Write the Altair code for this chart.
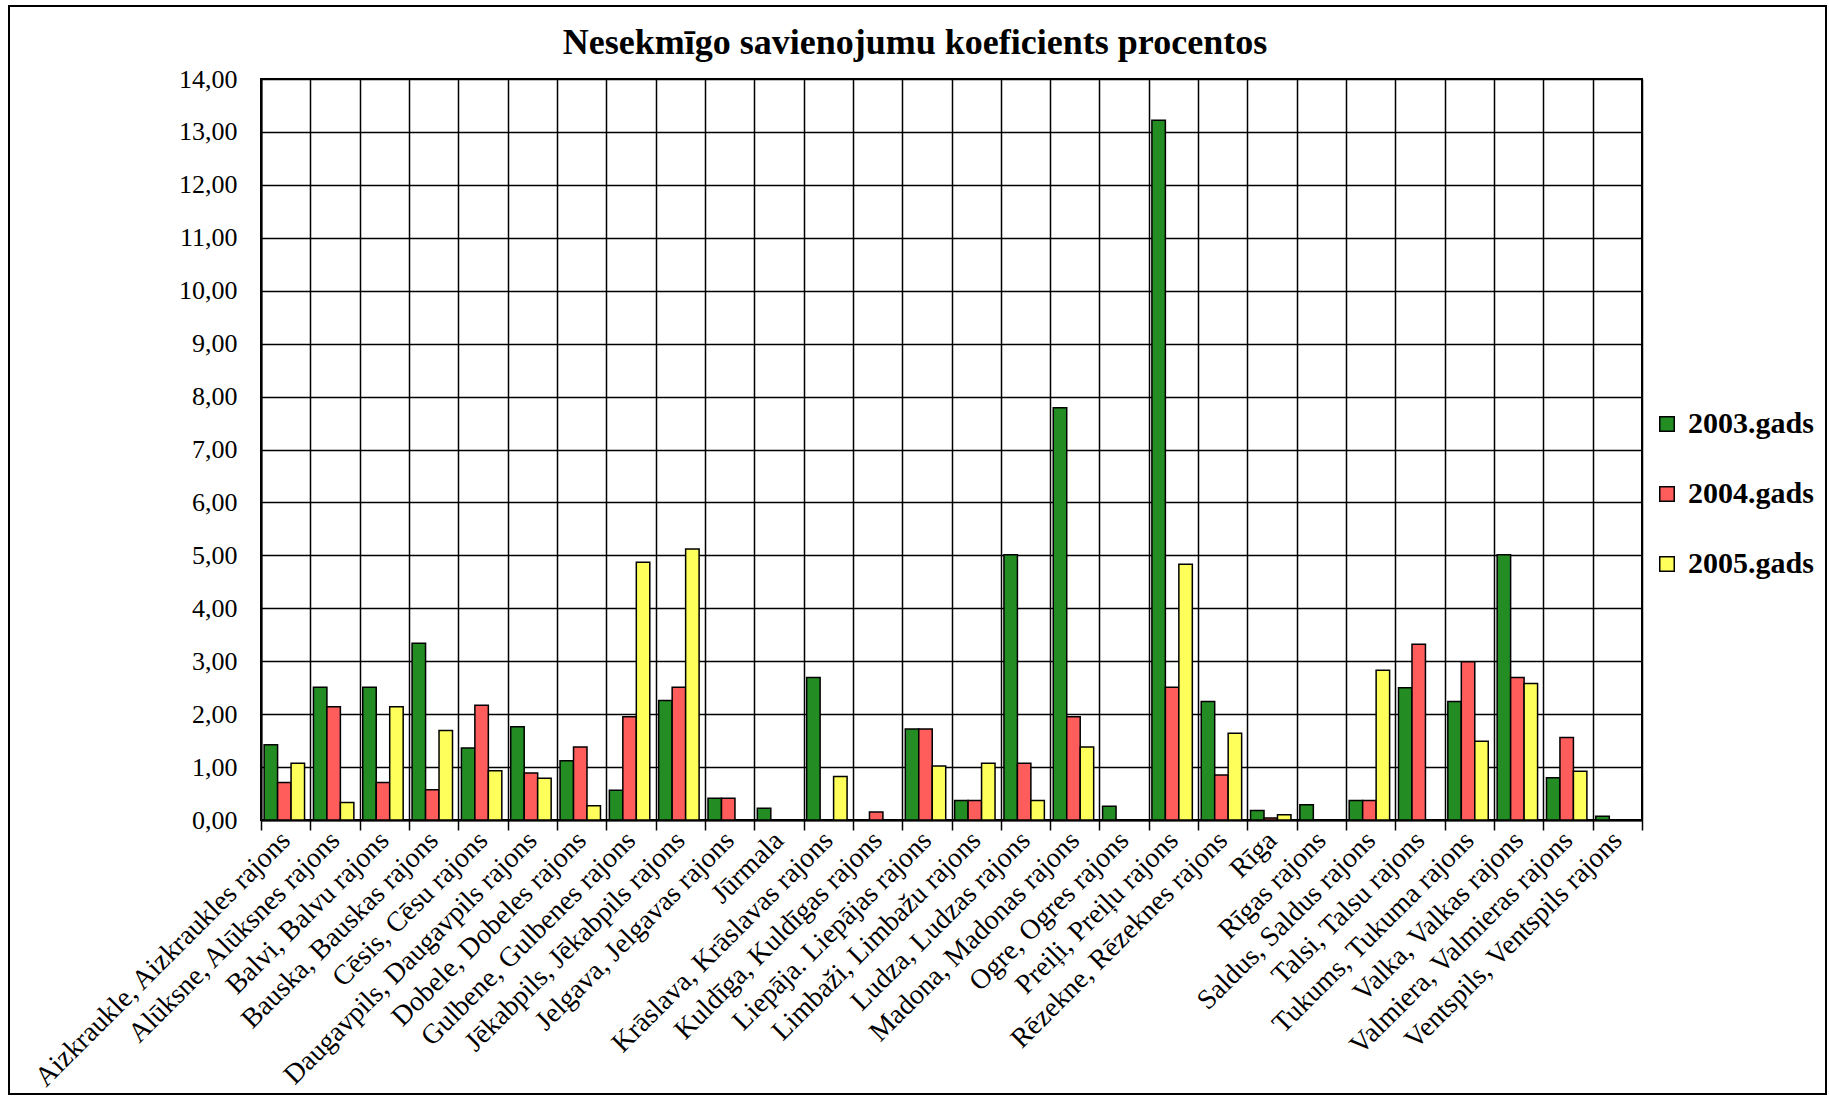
import altair as alt
import pandas as pd

# Districts (x axis), in display order
categories = [
    "Aizkraukle, Aizkraukles rajons",
    "Alūksne, Alūksnes rajons",
    "Balvi, Balvu rajons",
    "Bauska, Bauskas rajons",
    "Cēsis, Cēsu rajons",
    "Daugavpils, Daugavpils rajons",
    "Dobele, Dobeles rajons",
    "Gulbene, Gulbenes rajons",
    "Jēkabpils, Jēkabpils rajons",
    "Jelgava, Jelgavas rajons",
    "Jūrmala",
    "Krāslava, Krāslavas rajons",
    "Kuldīga, Kuldīgas rajons",
    "Liepāja. Liepājas rajons",
    "Limbaži, Limbažu rajons",
    "Ludza, Ludzas rajons",
    "Madona, Madonas rajons",
    "Ogre, Ogres rajons",
    "Preiļi, Preiļu rajons",
    "Rēzekne, Rēzeknes rajons",
    "Rīga",
    "Rīgas rajons",
    "Saldus, Saldus rajons",
    "Talsi, Talsu rajons",
    "Tukums, Tukuma rajons",
    "Valka, Valkas rajons",
    "Valmiera, Valmieras rajons",
    "Ventspils, Ventspils rajons",
]

years = ["2003.gads", "2004.gads", "2005.gads"]

# Unsuccessful connection rate, percent (None = no value)
v2003 = [1.42, 2.51, 2.51, 3.34, 1.36, 1.76, 1.12, 0.56, 2.26, 0.41,
         0.22, 2.69, None, 1.72, 0.37, 5.01, 7.79, 0.26, 13.22, 2.24,
         0.18, 0.29, 0.37, 2.50, 2.24, 5.01, 0.80, 0.07]
v2004 = [0.71, 2.14, 0.71, 0.57, 2.17, 0.89, 1.38, 1.95, 2.51, 0.41,
         None, None, 0.15, 1.72, 0.37, 1.07, 1.95, None, 2.51, 0.85,
         0.04, None, 0.37, 3.32, 2.99, 2.69, 1.56, None]
v2005 = [1.07, 0.33, 2.14, 1.69, 0.93, 0.79, 0.27, 4.87, 5.12, None,
         None, 0.82, None, 1.02, 1.07, 0.37, 1.38, None, 4.83, 1.64,
         0.10, None, 2.83, None, 1.49, 2.58, 0.92, None]

series_colors = ["#238c23", "#ff5c5c", "#ffff5c"]
y_ticks = list(range(0, 15))

rows = []
for cat, a, b, c in zip(categories, v2003, v2004, v2005):
    for yr, v in zip(years, (a, b, c)):
        if v is not None:
            rows.append({"rajons": cat, "gads": yr, "koef": v})
df = pd.DataFrame(rows)

W, H = 1381, 741
PAD_L, PAD_T = 261, 79
PAD_R = 1829 - PAD_L - W
PAD_B = 1097 - PAD_T - H

FONT = "Liberation Serif"

bars = alt.Chart(df).mark_bar(stroke="black", strokeWidth=1.5).encode(
    x=alt.X(
        "rajons:N",
        sort=categories,
        scale=alt.Scale(paddingInner=0, paddingOuter=0),
        axis=alt.Axis(
            title=None,
            labelAngle=-45,
            labelAlign="right",
            labelBaseline="middle",
            labelFont=FONT,
            labelFontSize=28,
            labelColor="black",
            labelPadding=6,
            labelOverlap=False,
            labelLimit=0,
            tickBand="extent",
            ticks=True,
            tickSize=10,
            tickColor="black",
            tickWidth=1.5,
            grid=True,
            gridColor="black",
            gridWidth=1.5,
            gridOpacity=1,
            domainColor="black",
            domainWidth=2,
        ),
    ),
    xOffset=alt.XOffset(
        "gads:N",
        sort=years,
        scale=alt.Scale(paddingInner=0, paddingOuter=0.33, align=0.35),
    ),
    y=alt.Y(
        "koef:Q",
        scale=alt.Scale(domain=[0, 14], nice=False, zero=True),
        axis=alt.Axis(
            title=None,
            values=y_ticks,
            labelExpr="replace(format(datum.value, '.2f'), '.', ',')",
            labelFont=FONT,
            labelFontSize=26,
            labelColor="black",
            labelPadding=24,
            ticks=False,
            grid=True,
            gridColor="black",
            gridWidth=1.5,
            gridOpacity=1,
            domainColor="black",
            domainWidth=2,
        ),
    ),
    color=alt.Color(
        "gads:N",
        sort=years,
        scale=alt.Scale(domain=years, range=series_colors),
        legend=alt.Legend(
            title=None,
            orient="none",
            legendX=1391,
            legendY=330,
            symbolType="square",
            symbolSize=210,
            symbolStrokeColor="black",
            symbolStrokeWidth=1.5,
            symbolOpacity=1,
            labelFont=FONT,
            labelFontSize=30,
            labelFontWeight="bold",
            labelColor="black",
            labelOffset=6,
            labelLimit=0,
            rowPadding=40,
        ),
    ),
)

# Outer border of the whole figure
frame = alt.Chart(pd.DataFrame({"k": [0]})).mark_rect(
    fillOpacity=0, stroke="black", strokeWidth=2
).encode(
    x=alt.value(-252), x2=alt.value(1565),
    y=alt.value(-73), y2=alt.value(1015),
)

title = alt.Chart(pd.DataFrame({"k": [0]})).mark_text(
    text="Nesekmīgo savienojumu koeficients procentos",
    font=FONT,
    fontSize=36,
    fontWeight="bold",
    color="black",
    align="center",
    baseline="alphabetic",
).encode(x=alt.value(654), y=alt.value(-25))

chart = alt.layer(frame, bars, title).properties(
    width=W,
    height=H,
    padding={"left": PAD_L, "top": PAD_T, "right": PAD_R, "bottom": PAD_B},
    autosize=alt.AutoSizeParams(type="none"),
    background="white",
).configure_view(stroke="black", strokeWidth=2)

chart.save("out.html", embed_options={"renderer": "svg", "actions": False})
